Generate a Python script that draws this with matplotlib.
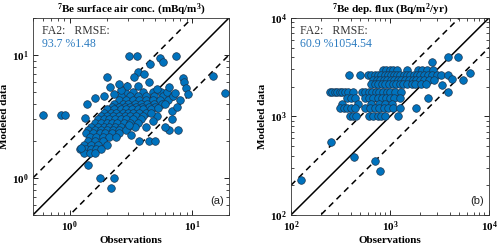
import numpy as np
import matplotlib.pyplot as plt

plt.rcParams['font.family'] = 'Liberation Serif'
plt.rcParams['mathtext.fontset'] = 'custom'
plt.rcParams['mathtext.rm'] = 'Liberation Serif:bold'
plt.rcParams['mathtext.default'] = 'rm'

# panel (a): 7Be surface air concentration (obs, model) pairs
pts_a = [
    # dense cloud, row by row
    *[(x, 5.0) for x in [2.8, 3.3, 4.0, 4.8, 5.6]],
    *[(x, 4.6) for x in [2.6, 3.1, 3.6, 4.2, 4.9, 5.8, 6.8]],
    *[(x, 4.3) for x in [2.5, 2.9, 3.3, 3.7, 4.2, 4.8, 5.5, 6.3]],
    *[(x, 4.0) for x in [2.3, 2.7, 3.0, 3.4, 3.8, 4.3, 4.9, 5.7]],
    *[(x, 3.8) for x in [2.2, 2.5, 2.8, 3.1, 3.5, 3.9, 4.4, 5.0]],
    *[(x, 3.6) for x in [2.0, 2.3, 2.6, 2.9, 3.2, 3.6, 4.0, 4.6]],
    *[(x, 3.4) for x in [1.9, 2.15, 2.4, 2.7, 3.0, 3.3, 3.7, 4.2]],
    *[(x, 3.2) for x in [1.8, 2.0, 2.25, 2.5, 2.8, 3.1, 3.5, 4.0]],
    *[(x, 3.0) for x in [1.7, 1.9, 2.1, 2.35, 2.6, 2.9, 3.3, 3.8]],
    *[(x, 2.8) for x in [1.6, 1.8, 2.0, 2.2, 2.45, 2.75, 3.1, 3.6]],
    *[(x, 2.6) for x in [1.5, 1.7, 1.9, 2.1, 2.35, 2.6, 3.0, 3.4]],
    *[(x, 2.45) for x in [1.4, 1.6, 1.8, 2.0, 2.25, 2.5, 2.9, 6.5, 7.6]],
    *[(x, 2.3) for x in [1.35, 1.55, 1.75, 1.95, 2.2, 2.5]],
    *[(x, 2.15) for x in [1.45, 1.65, 1.85, 2.1, 2.4]],
    *[(x, 2.0) for x in [1.4, 1.6, 1.85, 3.7, 4.4, 5.0]],
    *[(x, 1.85) for x in [1.3, 1.5, 1.7, 2.0]],
    *[(x, 1.72) for x in [1.2, 1.35, 1.5, 1.65, 1.8]],
    *[(x, 1.6) for x in [1.3, 1.45, 1.6]],
    # scattered points
    (2.0, 6.56), (2.13, 5.5), (2.29, 4.85), (1.37, 3.97), (1.32, 3.08),
    (2.95, 5.6), (3.05, 9.76), (3.54, 9.76), (5.5, 9.5), (7.4, 9.76),
    (5.75, 8.7), (14.7, 6.8), (18.4, 4.9), (4.55, 8.4), (3.63, 7.3),
    (4.06, 7.0), (3.33, 6.56), (8.4, 6.45), (8.6, 6.0), (8.9, 5.35),
    (9.2, 4.8), (8.0, 4.3), (6.9, 3.5), (6.9, 3.0), (5.2, 3.2),
    (0.60, 3.24), (0.84, 3.24), (0.92, 3.24), (1.23, 1.75), (1.41, 1.28),
    (1.77, 1.0), (2.31, 1.0), (2.17, 0.82), (3.06, 2.67), (3.16, 2.25),
    (2.6, 5.2), (3.6, 5.6), (4.4, 6.0), (5.2, 5.3), (6.2, 5.0),
    (7.0, 4.6), (2.5, 5.8), (1.6, 4.5), (1.9, 4.6), (6.5, 5.5),
    (7.5, 3.8), (6.0, 2.6), (4.6, 3.4), (5.3, 3.7), (4.8, 2.9),
    (6.0, 4.0), (7.2, 4.9), (4.2, 2.6),
]

# panel (b): 7Be deposition flux (obs, model) pairs
pts_b = [
    *[(x, 2970) for x in [850, 920, 1000, 1080, 1170, 1480, 1920, 2100, 2350, 2700]],
    *[(x, 2640) for x in [385, 500, 600, 650, 700, 760, 820, 880, 950, 1020, 1100, 1180,
                          1270, 1370, 1480, 1600, 1730, 1870, 2020, 2200, 2400, 2650,
                          2950, 3300, 3850]],
    *[(x, 2350) for x in [680, 740, 800, 870, 940, 1020, 1110, 1200, 1300, 1420, 1550,
                          1700, 1850, 2000, 2200, 2500, 2800]],
    *[(x, 2120) for x in [640, 700, 760, 830, 900, 980, 1060, 1150, 1250, 1360, 1500,
                          1650, 1800, 2050, 2300]],
    *[(x, 1790) for x in [248, 262, 276, 292, 310, 330, 352, 378, 424, 520, 560, 610,
                          660, 720, 780, 850, 930, 1010, 1120, 1290, 3880]],
    *[(x, 1530) for x in [370, 400, 440, 560, 620, 680, 750, 830, 920, 1000, 1100, 1250, 2420]],
    *[(x, 1350) for x in [330, 480, 650, 780, 900, 1050]],
    *[(x, 1210) for x in [313, 340, 370, 405, 443, 560, 630, 700, 780, 870, 960, 1080,
                          1250, 1830]],
    *[(x, 1000) for x in [390, 420, 455, 620, 680, 750, 820, 900, 1200]],
    (125, 226), (252, 547), (436, 385), (705, 353), (795, 282),
    (4900, 4050), (3890, 4050), (2640, 3600), (6450, 2745), (5400, 2350),
    (4200, 2380), (3330, 2090),
]

titles = [r"$^{7}$Be surface air conc. (mBq/m$^{3}$)", r"$^{7}$Be dep. flux (Bq/m$^{2}$/yr)"]
fa2 = ["93.7 %", "60.9 %"]
rmse = ["1.48", "1054.54"]
panel_tags = ["(a)", "(b)"]
limits = [(0.5, 20), (100, 10000)]
major_ticks = [[1, 10], [100, 1000, 10000]]

blue = '#0072BD'
txt_blue = '#2B7BC0'

fig = plt.figure(figsize=(5.0, 2.49), dpi=100)
axes = [fig.add_axes([0.066, 0.137, 0.392, 0.791]),
        fig.add_axes([0.582, 0.137, 0.396, 0.791])]

for i in range(2):
    ax = axes[i]
    pts = [pts_a, pts_b][i]
    lo, hi = limits[i]
    obs = np.array([p[0] for p in pts])
    mod = np.array([p[1] for p in pts])
    ax.set_xscale('log')
    ax.set_yscale('log')
    ax.set_xticks(major_ticks[i])
    ax.set_yticks(major_ticks[i])
    ax.set_xlim(lo, hi)
    ax.set_ylim(lo, hi)
    line = np.array([lo, hi])
    ax.plot(line, line, color='k', lw=1.1, zorder=1)
    ax.plot(line, line * 2, color='k', lw=1.1, ls=(0, (4, 3)), zorder=1)
    ax.plot(line, line / 2, color='k', lw=1.1, ls=(0, (4, 3)), zorder=1)
    ax.scatter(obs, mod, s=30, c=blue, edgecolors='#1b3550', linewidths=0.5, zorder=3)

    ax.set_title(titles[i], fontsize=8, fontweight='bold', pad=3)
    ax.set_xlabel('Observations', fontsize=8, fontweight='bold', labelpad=2)
    ax.set_ylabel('Modeled data', fontsize=8, fontweight='bold', labelpad=2)
    ax.tick_params(which='both', direction='in', top=True, right=True, labelsize=8, pad=3)
    ax.tick_params(which='major', length=3.5, width=0.6)
    ax.tick_params(which='minor', length=2, width=0.5)
    for lab in ax.get_xticklabels() + ax.get_yticklabels():
        lab.set_fontweight('bold')
    for s in ax.spines.values():
        s.set_linewidth(0.6)
        s.set_color('#333333')

    ax.text(0.045, 0.965, 'FA2:   RMSE:', transform=ax.transAxes, fontsize=8.5,
            color='#333333', va='top', ha='left')
    ax.text(0.045, 0.90, fa2[i] + rmse[i], transform=ax.transAxes, fontsize=8.5,
            color=txt_blue, va='top', ha='left')
    ax.text(0.975, 0.045, panel_tags[i], transform=ax.transAxes, fontsize=8,
            family='Liberation Sans', ha='right', va='bottom', color='#222222')

# right-edge x label of panel (b) drawn by hand so it is not dropped
axes[1].set_xticklabels([r'$10^{2}$', r'$10^{3}$', ''])
axes[1].text(1.0, -0.021, r'$10^{4}$', transform=axes[1].transAxes, fontsize=8,
             ha='center', va='top')

fig.savefig('out.png', dpi=100)
